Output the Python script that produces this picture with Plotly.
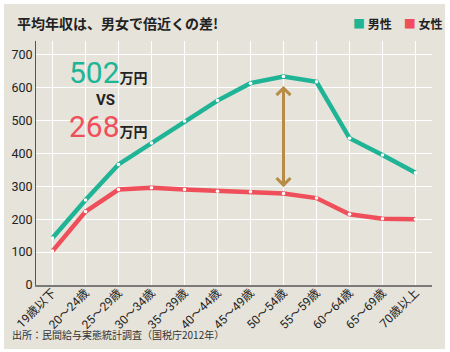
import plotly.graph_objects as go

categories = ["19歳以下", "20～24歳", "25～29歳", "30～34歳", "35～39歳", "40～44歳",
              "45～49歳", "50～54歳", "55～59歳", "60～64歳", "65～69歳", "70歳以上"]
male = [143, 258, 366, 431, 498, 560, 613, 633, 617, 446, 395, 341]
female = [103, 223, 290, 295, 290, 285, 283, 278, 264, 215, 201, 200]
y_ticks = [0, 100, 200, 300, 400, 500, 600, 700]

TEAL = "#20b496"
RED = "#ef4f5a"
GOLD = "#b88c46"
BG = "#e6e3da"
CJK = "Noto Sans CJK JP"
NUM = "Liberation Sans Narrow, Roboto, Noto Sans CJK JP"

fig = go.Figure()
for vals, col, name in [(male, TEAL, "男性"), (female, RED, "女性")]:
    fig.add_trace(go.Scatter(
        x=categories, y=vals, name=name, mode="lines+markers",
        line=dict(color=col, width=4.5),
        marker=dict(color="white", size=3.5),
        showlegend=False))

# plot area: x 36..432, y 41..285
L, R, T, B = 36, 18, 41, 67
W, H = 450, 352
pw, ph = W - L - R, H - T - B

def px(x):
    return (x - L) / pw

def py(y):
    return (H - B - y) / ph

fig.add_shape(type="rect", xref="paper", yref="paper", layer="below",
              x0=px(4), x1=px(445), y0=py(349), y1=py(4),
              fillcolor=BG, line=dict(width=0))

# double-headed arrow at 50～54歳
fig.add_annotation(x=categories[7], y=297, ax=categories[7], ay=609,
                   xref="x", yref="y", axref="x", ayref="y", text="",
                   showarrow=True, arrowside="end+start",
                   arrowhead=4, startarrowhead=4, arrowsize=0.9, startarrowsize=0.9,
                   arrowwidth=3, arrowcolor=GOLD)

fig.add_annotation(xref="paper", yref="paper", x=px(67), y=py(72),
                   xanchor="left", yanchor="middle", showarrow=False,
                   text=f"<span style='color:{TEAL};font-size:30px'>502</span><span style='font-size:14px;font-weight:bold'>万円</span>",
                   font=dict(family=NUM, color="#222", size=14))
fig.add_annotation(xref="paper", yref="paper", x=px(105), y=py(100),
                   xanchor="center", yanchor="middle", showarrow=False,
                   text="<b>VS</b>", font=dict(family="Roboto", color="#222", size=15))
fig.add_annotation(xref="paper", yref="paper", x=px(67), y=py(126),
                   xanchor="left", yanchor="middle", showarrow=False,
                   text=f"<span style='color:{RED};font-size:30px'>268</span><span style='font-size:14px;font-weight:bold'>万円</span>",
                   font=dict(family=NUM, color="#222", size=14))

# legend
fig.add_annotation(xref="paper", yref="paper", x=px(351), y=py(23),
                   xanchor="left", yanchor="middle", showarrow=False,
                   text=f"<span style='color:{TEAL}'>■</span> <b>男性</b>　<span style='color:{RED}'>■</span> <b>女性</b>",
                   font=dict(family=CJK, color="#222", size=12))

# source
fig.add_annotation(xref="paper", yref="paper", x=px(10), y=py(334),
                   xanchor="left", yanchor="middle", showarrow=False,
                   text="出所：民間給与実態統計調査（国税庁2012年）",
                   font=dict(family=CJK, color="#333", size=10))

fig.update_layout(
    width=W, height=H,
    margin=dict(l=L, r=R, t=T, b=B, autoexpand=False),
    paper_bgcolor="white", plot_bgcolor="rgba(0,0,0,0)",
    title=dict(text="<b>平均年収は、男女で倍近くの差!</b>", xref="container", yref="container",
               x=17 / W, y=1 - 24 / H, xanchor="left", yanchor="middle",
               font=dict(family=CJK, size=14, color="#222")),
    showlegend=False,
)
fig.update_xaxes(type="category", range=[-0.5, 11.5], tickangle=-45, automargin=False,
                 showgrid=True, gridcolor="white", gridwidth=1,
                 showline=True, linecolor="#7a7a7a", linewidth=2,
                 ticks="", ticklabelstandoff=-6,
                 tickfont=dict(family=NUM, size=12, color="#222"))
fig.update_yaxes(range=[0, 741], tickvals=y_ticks, showgrid=True, gridcolor="white",
                 automargin=False,
                 gridwidth=1, zeroline=False, showline=True, linecolor="#555", linewidth=1,
                 ticks="", tickfont=dict(family=NUM, size=12.5, color="#222"))

fig.write_html("out.html")
